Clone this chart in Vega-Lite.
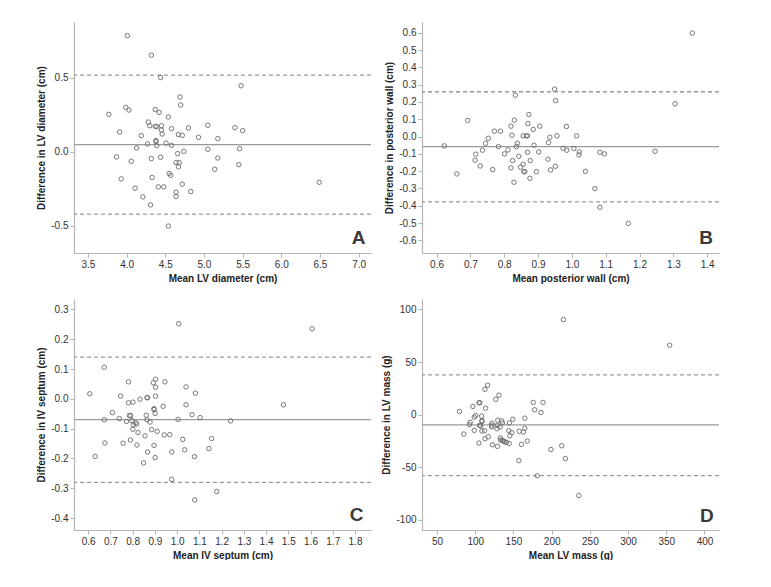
{
  "$schema": "https://vega.github.io/schema/vega-lite/v6.json",
  "padding": {"left": 36, "top": 22, "right": 0, "bottom": 0},
  "background": "white",
  "columns": 2,
  "spacing": {"row": 16, "column": 9},
  "config": {
    "view": {"stroke": null},
    "axis": {
      "grid": false,
      "domainColor": "#b4b4b4",
      "domainWidth": 1.2,
      "tickColor": "#b4b4b4",
      "tickSize": 4,
      "labelPadding": 2,
      "labelOverlap": false,
      "labelColor": "#333333",
      "labelFont": "Liberation Sans, Arial, sans-serif",
      "labelFontSize": 10,
      "titleFont": "Liberation Sans, Arial, sans-serif",
      "titleFontSize": 10,
      "titleFontWeight": "bold",
      "titleColor": "#222222",
      "titlePadding": 4
    }
  },
  "datasets": {
    "A_points": [
      {"mean": 4.01, "diff": 0.784}, {"mean": 4.32, "diff": 0.652}, {"mean": 4.44, "diff": 0.501}, {"mean": 5.48, "diff": 0.445},
      {"mean": 4.69, "diff": 0.369}, {"mean": 4.70, "diff": 0.315}, {"mean": 3.77, "diff": 0.252}, {"mean": 3.99, "diff": 0.299},
      {"mean": 4.03, "diff": 0.281}, {"mean": 4.37, "diff": 0.285}, {"mean": 4.42, "diff": 0.265}, {"mean": 4.54, "diff": 0.234},
      {"mean": 4.28, "diff": 0.200}, {"mean": 4.30, "diff": 0.175}, {"mean": 4.37, "diff": 0.171}, {"mean": 4.39, "diff": 0.169},
      {"mean": 4.45, "diff": 0.175}, {"mean": 4.45, "diff": 0.146}, {"mean": 4.46, "diff": 0.119}, {"mean": 4.58, "diff": 0.155},
      {"mean": 4.80, "diff": 0.160}, {"mean": 5.05, "diff": 0.178}, {"mean": 5.40, "diff": 0.162}, {"mean": 5.50, "diff": 0.142},
      {"mean": 3.91, "diff": 0.133}, {"mean": 4.19, "diff": 0.108}, {"mean": 4.67, "diff": 0.115}, {"mean": 4.72, "diff": 0.110},
      {"mean": 4.93, "diff": 0.097}, {"mean": 5.18, "diff": 0.088}, {"mean": 4.38, "diff": 0.076}, {"mean": 4.38, "diff": 0.067},
      {"mean": 4.27, "diff": 0.052}, {"mean": 4.51, "diff": 0.058}, {"mean": 4.39, "diff": 0.040}, {"mean": 4.58, "diff": 0.043},
      {"mean": 4.13, "diff": 0.025}, {"mean": 5.05, "diff": 0.016}, {"mean": 5.46, "diff": 0.020}, {"mean": 4.74, "diff": 0.002},
      {"mean": 4.66, "diff": -0.013}, {"mean": 3.87, "diff": -0.036}, {"mean": 4.06, "diff": -0.065}, {"mean": 4.32, "diff": -0.047},
      {"mean": 4.44, "diff": -0.038}, {"mean": 5.18, "diff": -0.043}, {"mean": 4.64, "diff": -0.074}, {"mean": 4.68, "diff": -0.074},
      {"mean": 4.67, "diff": -0.103}, {"mean": 5.45, "diff": -0.088}, {"mean": 5.14, "diff": -0.119}, {"mean": 4.55, "diff": -0.148},
      {"mean": 4.57, "diff": -0.160}, {"mean": 3.93, "diff": -0.184}, {"mean": 4.33, "diff": -0.175}, {"mean": 6.49, "diff": -0.207},
      {"mean": 4.72, "diff": -0.220}, {"mean": 4.11, "diff": -0.247}, {"mean": 4.41, "diff": -0.238}, {"mean": 4.48, "diff": -0.238},
      {"mean": 4.64, "diff": -0.274}, {"mean": 4.83, "diff": -0.270}, {"mean": 4.64, "diff": -0.303}, {"mean": 4.21, "diff": -0.306},
      {"mean": 4.31, "diff": -0.360}, {"mean": 4.54, "diff": -0.503}
    ],
    "A_lines": [{"diff": 0.047, "kind": "mean"}, {"diff": 0.517, "kind": "limit"}, {"diff": -0.422, "kind": "limit"}],
    "A_label": [{"mean": 7.0, "diff": -0.585, "label": "A"}],
    "B_points": [
      {"mean": 1.356, "diff": 0.598}, {"mean": 0.949, "diff": 0.274}, {"mean": 0.952, "diff": 0.208}, {"mean": 0.833, "diff": 0.239},
      {"mean": 1.305, "diff": 0.189}, {"mean": 0.692, "diff": 0.093}, {"mean": 0.873, "diff": 0.127}, {"mean": 0.830, "diff": 0.095},
      {"mean": 0.870, "diff": 0.075}, {"mean": 0.820, "diff": 0.060}, {"mean": 0.886, "diff": 0.041}, {"mean": 0.905, "diff": 0.060},
      {"mean": 0.984, "diff": 0.058}, {"mean": 0.771, "diff": 0.031}, {"mean": 0.789, "diff": 0.031}, {"mean": 0.823, "diff": 0.008},
      {"mean": 0.856, "diff": 0.004}, {"mean": 0.865, "diff": 0.004}, {"mean": 0.869, "diff": 0.004}, {"mean": 0.956, "diff": 0.004},
      {"mean": 1.014, "diff": 0.004}, {"mean": 0.935, "diff": -0.004}, {"mean": 0.753, "diff": -0.010}, {"mean": 0.623, "diff": -0.054},
      {"mean": 0.745, "diff": -0.039}, {"mean": 0.783, "diff": -0.058}, {"mean": 0.839, "diff": -0.039}, {"mean": 0.836, "diff": -0.058},
      {"mean": 0.811, "diff": -0.077}, {"mean": 0.888, "diff": -0.050}, {"mean": 0.931, "diff": -0.035}, {"mean": 0.974, "diff": -0.068},
      {"mean": 1.006, "diff": -0.069}, {"mean": 0.985, "diff": -0.079}, {"mean": 0.736, "diff": -0.079}, {"mean": 0.716, "diff": -0.102},
      {"mean": 0.801, "diff": -0.100}, {"mean": 0.869, "diff": -0.091}, {"mean": 0.902, "diff": -0.089}, {"mean": 1.022, "diff": -0.089},
      {"mean": 1.021, "diff": -0.106}, {"mean": 1.083, "diff": -0.091}, {"mean": 1.096, "diff": -0.100}, {"mean": 1.246, "diff": -0.085},
      {"mean": 0.843, "diff": -0.114}, {"mean": 0.714, "diff": -0.137}, {"mean": 0.825, "diff": -0.139}, {"mean": 0.877, "diff": -0.139},
      {"mean": 0.929, "diff": -0.131}, {"mean": 0.729, "diff": -0.170}, {"mean": 0.856, "diff": -0.160}, {"mean": 0.848, "diff": -0.177},
      {"mean": 0.951, "diff": -0.172}, {"mean": 0.766, "diff": -0.191}, {"mean": 0.820, "diff": -0.181}, {"mean": 0.858, "diff": -0.203},
      {"mean": 0.861, "diff": -0.203}, {"mean": 0.895, "diff": -0.203}, {"mean": 0.937, "diff": -0.193}, {"mean": 1.040, "diff": -0.201},
      {"mean": 0.660, "diff": -0.216}, {"mean": 0.876, "diff": -0.241}, {"mean": 0.829, "diff": -0.264}, {"mean": 1.068, "diff": -0.301},
      {"mean": 1.083, "diff": -0.409}, {"mean": 1.167, "diff": -0.502}
    ],
    "B_lines": [{"diff": -0.058, "kind": "mean"}, {"diff": 0.259, "kind": "limit"}, {"diff": -0.378, "kind": "limit"}],
    "B_label": [{"mean": 1.397, "diff": -0.588, "label": "B"}],
    "C_points": [
      {"mean": 1.007, "diff": 0.252}, {"mean": 1.607, "diff": 0.235}, {"mean": 0.672, "diff": 0.106}, {"mean": 0.781, "diff": 0.057},
      {"mean": 0.903, "diff": 0.066}, {"mean": 0.893, "diff": 0.054}, {"mean": 0.945, "diff": 0.057}, {"mean": 0.903, "diff": 0.039},
      {"mean": 1.040, "diff": 0.040}, {"mean": 1.082, "diff": 0.019}, {"mean": 0.607, "diff": 0.017}, {"mean": 0.746, "diff": 0.009},
      {"mean": 0.903, "diff": 0.009}, {"mean": 0.864, "diff": 0.004}, {"mean": 0.867, "diff": 0.004}, {"mean": 0.833, "diff": -0.001},
      {"mean": 0.781, "diff": -0.013}, {"mean": 0.801, "diff": -0.011}, {"mean": 1.040, "diff": -0.020}, {"mean": 1.478, "diff": -0.020},
      {"mean": 0.937, "diff": -0.025}, {"mean": 0.896, "diff": -0.033}, {"mean": 0.896, "diff": -0.036}, {"mean": 0.709, "diff": -0.046},
      {"mean": 0.901, "diff": -0.049}, {"mean": 1.067, "diff": -0.053}, {"mean": 0.785, "diff": -0.056}, {"mean": 0.791, "diff": -0.056},
      {"mean": 0.861, "diff": -0.055}, {"mean": 0.740, "diff": -0.066}, {"mean": 0.672, "diff": -0.070}, {"mean": 0.864, "diff": -0.070},
      {"mean": 1.004, "diff": -0.069}, {"mean": 1.103, "diff": -0.063}, {"mean": 1.240, "diff": -0.074}, {"mean": 0.772, "diff": -0.076},
      {"mean": 0.797, "diff": -0.073}, {"mean": 0.878, "diff": -0.078}, {"mean": 0.812, "diff": -0.080}, {"mean": 0.818, "diff": -0.084},
      {"mean": 0.803, "diff": -0.087}, {"mean": 0.801, "diff": -0.102}, {"mean": 0.885, "diff": -0.103}, {"mean": 0.910, "diff": -0.109},
      {"mean": 0.824, "diff": -0.113}, {"mean": 0.855, "diff": -0.124}, {"mean": 0.942, "diff": -0.121}, {"mean": 0.967, "diff": -0.120},
      {"mean": 1.025, "diff": -0.136}, {"mean": 1.155, "diff": -0.133}, {"mean": 0.790, "diff": -0.138}, {"mean": 0.675, "diff": -0.148},
      {"mean": 0.757, "diff": -0.149}, {"mean": 0.819, "diff": -0.155}, {"mean": 0.896, "diff": -0.156}, {"mean": 1.034, "diff": -0.171},
      {"mean": 1.143, "diff": -0.167}, {"mean": 0.867, "diff": -0.178}, {"mean": 0.976, "diff": -0.178}, {"mean": 0.631, "diff": -0.193},
      {"mean": 0.901, "diff": -0.197}, {"mean": 1.078, "diff": -0.194}, {"mean": 0.849, "diff": -0.215}, {"mean": 0.975, "diff": -0.270},
      {"mean": 1.178, "diff": -0.311}, {"mean": 1.079, "diff": -0.339}
    ],
    "C_lines": [{"diff": -0.070, "kind": "mean"}, {"diff": 0.140, "kind": "limit"}, {"diff": -0.280, "kind": "limit"}],
    "C_label": [{"mean": 1.807, "diff": -0.390, "label": "C"}],
    "D_points": [
      {"mean": 215.4, "diff": 90.4}, {"mean": 354.4, "diff": 66.0}, {"mean": 116.2, "diff": 27.9}, {"mean": 112.7, "diff": 24.0},
      {"mean": 131.1, "diff": 18.3}, {"mean": 126.8, "diff": 14.4}, {"mean": 104.8, "diff": 11.2}, {"mean": 106.1, "diff": 11.2},
      {"mean": 96.9, "diff": 7.7}, {"mean": 113.6, "diff": 6.1}, {"mean": 175.9, "diff": 11.5}, {"mean": 188.6, "diff": 11.5},
      {"mean": 177.6, "diff": 4.5}, {"mean": 186.0, "diff": 1.9}, {"mean": 79.4, "diff": 2.9}, {"mean": 100.4, "diff": -1.0},
      {"mean": 98.7, "diff": -2.6}, {"mean": 108.3, "diff": -1.6}, {"mean": 164.9, "diff": -3.5}, {"mean": 149.1, "diff": -4.5},
      {"mean": 108.8, "diff": -5.8}, {"mean": 108.8, "diff": -6.7}, {"mean": 129.5, "diff": -5.4}, {"mean": 134.6, "diff": -6.1},
      {"mean": 135.5, "diff": -8.0}, {"mean": 93.4, "diff": -7.4}, {"mean": 121.9, "diff": -8.3}, {"mean": 121.5, "diff": -10.3},
      {"mean": 144.7, "diff": -8.0}, {"mean": 128.9, "diff": -10.3}, {"mean": 92.5, "diff": -9.6}, {"mean": 105.7, "diff": -10.3},
      {"mean": 107.0, "diff": -10.9}, {"mean": 132.4, "diff": -11.9}, {"mean": 164.9, "diff": -13.1}, {"mean": 121.5, "diff": -11.9},
      {"mean": 128.5, "diff": -13.5}, {"mean": 98.7, "diff": -15.1}, {"mean": 108.8, "diff": -15.7}, {"mean": 112.3, "diff": -15.4},
      {"mean": 143.9, "diff": -15.4}, {"mean": 157.5, "diff": -16.0}, {"mean": 163.1, "diff": -16.7}, {"mean": 147.8, "diff": -17.3},
      {"mean": 85.1, "diff": -18.6}, {"mean": 117.1, "diff": -21.2}, {"mean": 145.2, "diff": -20.2}, {"mean": 132.9, "diff": -22.4},
      {"mean": 112.7, "diff": -23.1}, {"mean": 168.0, "diff": -25.3}, {"mean": 133.3, "diff": -24.4}, {"mean": 135.5, "diff": -24.7},
      {"mean": 136.8, "diff": -25.3}, {"mean": 138.6, "diff": -26.0}, {"mean": 140.8, "diff": -26.6}, {"mean": 144.3, "diff": -27.6},
      {"mean": 104.8, "diff": -27.2}, {"mean": 122.4, "diff": -28.8}, {"mean": 160.5, "diff": -28.5}, {"mean": 129.0, "diff": -30.4},
      {"mean": 213.2, "diff": -29.8}, {"mean": 199.1, "diff": -33.3}, {"mean": 218.0, "diff": -42.0}, {"mean": 157.0, "diff": -43.9},
      {"mean": 181.1, "diff": -58.3}, {"mean": 235.5, "diff": -77.2}
    ],
    "D_lines": [{"diff": -9.9, "kind": "mean"}, {"diff": 37.8, "kind": "limit"}, {"diff": -58.3, "kind": "limit"}],
    "D_label": [{"mean": 403, "diff": -96.5, "label": "D"}]
  },
  "concat": [
    {
      "width": 297, "height": 231,
      "encoding": {
        "y": {"field": "diff", "type": "quantitative", "scale": {"domain": [-0.685, 0.876], "nice": false, "zero": false},
              "axis": {"title": "Difference in LV diameter (cm)", "values": [-0.5, 0, 0.5], "labelOverlap": false, "labelExpr": "replace(format(datum.value, '.1f'), '−', '-')"}}
      },
      "layer": [
        {
          "data": {"name": "A_lines"},
          "mark": {"type": "rule", "color": "#9a9a9a", "strokeWidth": 1.3},
          "encoding": {
            "strokeDash": {"field": "kind", "type": "nominal", "scale": {"domain": ["mean", "limit"], "range": [[1, 0], [4, 3]]}, "legend": null}
          }
        },
        {
          "data": {"name": "A_points"},
          "mark": {"type": "point", "shape": "circle", "filled": false, "size": 20, "strokeWidth": 0.9, "color": "#6a6a6a", "opacity": 1},
          "encoding": {
            "x": {"field": "mean", "type": "quantitative", "scale": {"domain": [3.32, 7.16], "nice": false, "zero": false},
                  "axis": {"title": "Mean LV diameter (cm)", "values": [3.5, 4, 4.5, 5, 5.5, 6, 6.5, 7], "labelOverlap": false, "format": ".1f"}}
          }
        },
        {
          "data": {"name": "A_label"},
          "mark": {"type": "text", "fontSize": 19, "fontWeight": "bold", "font": "Liberation Sans, sans-serif", "color": "#3a3a3a", "align": "center", "baseline": "middle"},
          "encoding": {
            "x": {"field": "mean", "type": "quantitative", "scale": {"domain": [3.32, 7.16], "nice": false, "zero": false},
                  "axis": {"title": "Mean LV diameter (cm)", "values": [3.5, 4, 4.5, 5, 5.5, 6, 6.5, 7], "labelOverlap": false, "format": ".1f"}},
            "text": {"field": "label", "type": "nominal"}
          }
        }
      ]
    },
    {
      "width": 297, "height": 231,
      "encoding": {
        "y": {"field": "diff", "type": "quantitative", "scale": {"domain": [-0.673, 0.662], "nice": false, "zero": false},
              "axis": {"title": "Difference in posterior wall (cm)", "values": [-0.6, -0.5, -0.4, -0.3, -0.2, -0.1, 0, 0.1, 0.2, 0.3, 0.4, 0.5, 0.6], "labelOverlap": false, "labelExpr": "replace(format(datum.value, '.1f'), '−', '-')"}}
      },
      "layer": [
        {
          "data": {"name": "B_lines"},
          "mark": {"type": "rule", "color": "#9a9a9a", "strokeWidth": 1.3},
          "encoding": {
            "strokeDash": {"field": "kind", "type": "nominal", "scale": {"domain": ["mean", "limit"], "range": [[1, 0], [4, 3]]}, "legend": null}
          }
        },
        {
          "data": {"name": "B_points"},
          "mark": {"type": "point", "shape": "circle", "filled": false, "size": 20, "strokeWidth": 0.9, "color": "#6a6a6a", "opacity": 1},
          "encoding": {
            "x": {"field": "mean", "type": "quantitative", "scale": {"domain": [0.557, 1.435], "nice": false, "zero": false},
                  "axis": {"title": "Mean posterior wall (cm)", "values": [0.6, 0.7, 0.8, 0.9, 1.0, 1.1, 1.2, 1.3, 1.4], "labelOverlap": false, "format": ".1f"}}
          }
        },
        {
          "data": {"name": "B_label"},
          "mark": {"type": "text", "fontSize": 19, "fontWeight": "bold", "font": "Liberation Sans, sans-serif", "color": "#3a3a3a", "align": "center", "baseline": "middle"},
          "encoding": {
            "x": {"field": "mean", "type": "quantitative", "scale": {"domain": [0.557, 1.435], "nice": false, "zero": false},
                  "axis": {"title": "Mean posterior wall (cm)", "values": [0.6, 0.7, 0.8, 0.9, 1.0, 1.1, 1.2, 1.3, 1.4], "labelOverlap": false, "format": ".1f"}},
            "text": {"field": "label", "type": "nominal"}
          }
        }
      ]
    },
    {
      "width": 297, "height": 231,
      "encoding": {
        "y": {"field": "diff", "type": "quantitative", "scale": {"domain": [-0.44, 0.335], "nice": false, "zero": false},
              "axis": {"title": "Difference in IV septum (cm)", "values": [-0.4, -0.3, -0.2, -0.1, 0, 0.1, 0.2, 0.3], "labelOverlap": false, "labelExpr": "replace(format(datum.value, '.1f'), '−', '-')"}}
      },
      "layer": [
        {
          "data": {"name": "C_lines"},
          "mark": {"type": "rule", "color": "#9a9a9a", "strokeWidth": 1.3},
          "encoding": {
            "strokeDash": {"field": "kind", "type": "nominal", "scale": {"domain": ["mean", "limit"], "range": [[1, 0], [4, 3]]}, "legend": null}
          }
        },
        {
          "data": {"name": "C_points"},
          "mark": {"type": "point", "shape": "circle", "filled": false, "size": 20, "strokeWidth": 0.9, "color": "#6a6a6a", "opacity": 1},
          "encoding": {
            "x": {"field": "mean", "type": "quantitative", "scale": {"domain": [0.536, 1.872], "nice": false, "zero": false},
                  "axis": {"title": "Mean IV septum (cm)", "values": [0.6, 0.7, 0.8, 0.9, 1.0, 1.1, 1.2, 1.3, 1.4, 1.5, 1.6, 1.7, 1.8], "labelOverlap": false, "format": ".1f"}}
          }
        },
        {
          "data": {"name": "C_label"},
          "mark": {"type": "text", "fontSize": 19, "fontWeight": "bold", "font": "Liberation Sans, sans-serif", "color": "#3a3a3a", "align": "center", "baseline": "middle"},
          "encoding": {
            "x": {"field": "mean", "type": "quantitative", "scale": {"domain": [0.536, 1.872], "nice": false, "zero": false},
                  "axis": {"title": "Mean IV septum (cm)", "values": [0.6, 0.7, 0.8, 0.9, 1.0, 1.1, 1.2, 1.3, 1.4, 1.5, 1.6, 1.7, 1.8], "labelOverlap": false, "format": ".1f"}},
            "text": {"field": "label", "type": "nominal"}
          }
        }
      ]
    },
    {
      "width": 297, "height": 231,
      "encoding": {
        "y": {"field": "diff", "type": "quantitative", "scale": {"domain": [-110, 110], "nice": false, "zero": false},
              "axis": {"title": "Difference in LV mass (g)", "values": [-100, -50, 0, 50, 100], "labelOverlap": false, "labelExpr": "replace(format(datum.value, 'd'), '−', '-')"}}
      },
      "layer": [
        {
          "data": {"name": "D_lines"},
          "mark": {"type": "rule", "color": "#9a9a9a", "strokeWidth": 1.3},
          "encoding": {
            "strokeDash": {"field": "kind", "type": "nominal", "scale": {"domain": ["mean", "limit"], "range": [[1, 0], [4, 3]]}, "legend": null}
          }
        },
        {
          "data": {"name": "D_points"},
          "mark": {"type": "point", "shape": "circle", "filled": false, "size": 20, "strokeWidth": 0.9, "color": "#6a6a6a", "opacity": 1},
          "encoding": {
            "x": {"field": "mean", "type": "quantitative", "scale": {"domain": [30.3, 419], "nice": false, "zero": false},
                  "axis": {"title": "Mean LV mass (g)", "values": [50, 100, 150, 200, 250, 300, 350, 400], "labelOverlap": false, "format": "d"}}
          }
        },
        {
          "data": {"name": "D_label"},
          "mark": {"type": "text", "fontSize": 19, "fontWeight": "bold", "font": "Liberation Sans, sans-serif", "color": "#3a3a3a", "align": "center", "baseline": "middle"},
          "encoding": {
            "x": {"field": "mean", "type": "quantitative", "scale": {"domain": [30.3, 419], "nice": false, "zero": false},
                  "axis": {"title": "Mean LV mass (g)", "values": [50, 100, 150, 200, 250, 300, 350, 400], "labelOverlap": false, "format": "d"}},
            "text": {"field": "label", "type": "nominal"}
          }
        }
      ]
    }
  ]
}
